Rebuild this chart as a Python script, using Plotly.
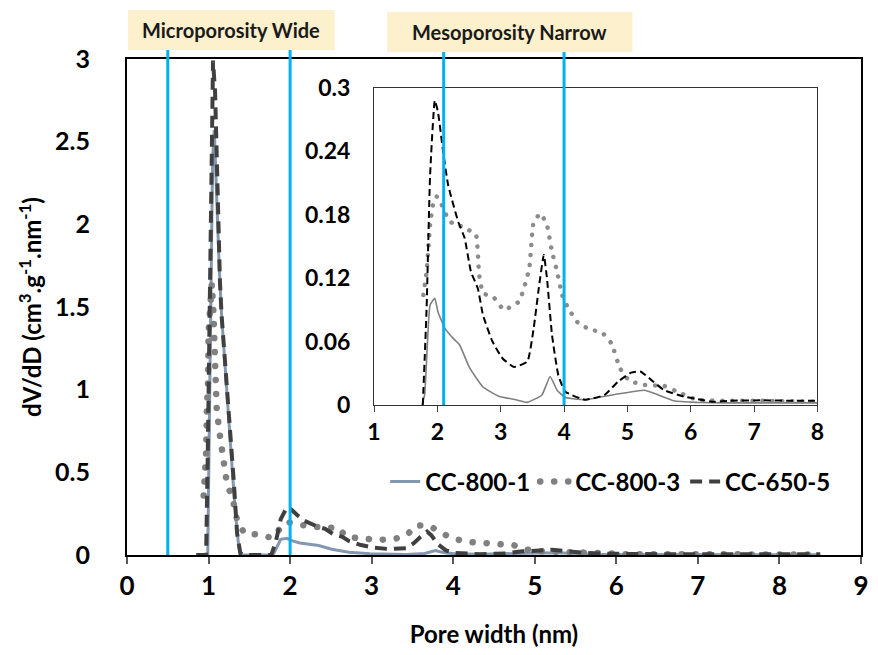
import plotly.graph_objects as go

# ---------------- data ----------------
x_cc800_1 = [0.85, 0.99, 1.01, 1.03, 1.05, 1.07, 1.10, 1.13, 1.16, 1.20, 1.25, 1.30, 1.34, 1.37, 1.40,
             1.50, 1.60, 1.70, 1.76, 1.80, 1.84, 1.885, 1.96, 2.01, 2.12, 2.25, 2.35, 2.51, 2.72, 2.98,
             3.24, 3.42, 3.65, 3.78, 3.89, 4.02, 4.33, 4.80, 5.27, 5.42, 5.73, 6.10, 6.60, 7.00, 7.50,
             8.00, 8.50]
y_cc800_1 = [0, 0, 0.8, 1.8, 2.4, 2.57, 2.15, 1.75, 1.45, 1.15, 0.78, 0.45, 0.2, 0.05, 0.0,
             0, 0, 0, 0, 0.01, 0.055, 0.0945, 0.101, 0.088, 0.0725, 0.063, 0.057, 0.035, 0.017, 0.008,
             0.005, 0.0025, 0.0095, 0.027, 0.014, 0.007, 0.005, 0.010, 0.014, 0.011, 0.004, 0.0025, 0.002,
             0.002, 0.002, 0.002, 0.002]

x_cc800_3 = [0.94, 0.95, 0.97, 0.98, 0.995, 1.0, 1.02, 1.04, 1.06, 1.08, 1.10, 1.14, 1.16, 1.18, 1.22,
             1.32, 1.35, 1.44, 1.58, 1.72, 1.78, 1.83, 1.885, 1.94, 1.99, 2.07, 2.17, 2.27, 2.40, 2.53,
             2.61, 2.66, 2.72, 2.90, 3.05, 3.29, 3.45, 3.52, 3.63, 3.73, 3.81, 3.89, 3.97, 4.07, 4.23,
             4.43, 4.59, 4.75, 4.88, 5.03, 5.27, 5.58, 5.84, 6.10, 6.62, 7.14, 8.00, 8.50]
y_cc800_3 = [0.36, 0.45, 0.62, 0.89, 1.06, 1.35, 1.5, 1.64, 1.47, 1.18, 0.88, 0.72, 0.64, 0.54, 0.45,
             0.29, 0.21, 0.13, 0.125, 0.11, 0.104, 0.126, 0.17, 0.192, 0.197, 0.189, 0.176, 0.17, 0.169, 0.164,
             0.161, 0.123, 0.106, 0.101, 0.09, 0.098, 0.129, 0.173, 0.181, 0.17, 0.145, 0.126, 0.104, 0.091, 0.077,
             0.071, 0.069, 0.058, 0.035, 0.023, 0.019, 0.018, 0.011, 0.005, 0.004, 0.004, 0.003, 0.003]

x_cc650_5 = [0.85, 0.97, 0.99, 1.01, 1.03, 1.055, 1.08, 1.105, 1.14, 1.16, 1.22, 1.27, 1.31, 1.35, 1.39,
             1.45, 1.60, 1.77, 1.83, 1.885, 1.96, 2.01, 2.09, 2.17, 2.33, 2.43, 2.53, 2.64, 2.72, 2.87,
             3.03, 3.21, 3.42, 3.52, 3.60, 3.68, 3.73, 3.81, 3.91, 4.02, 4.33, 4.64, 4.85, 5.06, 5.21,
             5.37, 5.58, 5.89, 6.10, 6.36, 6.62, 7.14, 7.66, 8.00, 8.50]
y_cc650_5 = [0, 0, 0.6, 1.5, 2.4, 2.99, 2.8, 2.25, 1.65, 1.45, 1.05, 0.75, 0.44, 0.13, 0.01,
             0, 0, 0, 0.091, 0.217, 0.288, 0.277, 0.24, 0.208, 0.173, 0.158, 0.126, 0.11, 0.085, 0.06,
             0.044, 0.036, 0.041, 0.0725, 0.11, 0.142, 0.12, 0.066, 0.028, 0.0126, 0.005, 0.0095, 0.022, 0.0306, 0.0315,
             0.024, 0.014, 0.008, 0.0057, 0.003, 0.004, 0.0044, 0.004, 0.004, 0.004]

series_names = ["CC-800-1", "CC-800-3", "CC-650-5"]
main_ticks_x = [0, 1, 2, 3, 4, 5, 6, 7, 8, 9]
main_ticks_y = [0, 0.5, 1, 1.5, 2, 2.5, 3]
main_ticktext_y = ["0", "0.5", "1", "1.5", "2", "2.5", "3"]
inset_ticks_x = [1, 2, 3, 4, 5, 6, 7, 8]
inset_ticks_y = [0, 0.06, 0.12, 0.18, 0.24, 0.3]
inset_ticktext_y = ["0", "0.06", "0.12", "0.18", "0.24", "0.3"]
micro_wide_lines = [0.5, 2.0]
meso_narrow_lines = [2.1, 4.0]
box_labels = ["Microporosity Wide", "Mesoporosity Narrow"]
INSET_MIN_X = 1.755

FONT = "Lato"

def inset_subset(xs, ys):
    pairs = [(a, b) for a, b in zip(xs, ys) if a >= INSET_MIN_X]
    return [p[0] for p in pairs], [p[1] for p in pairs]

fig = go.Figure()

# main traces
fig.add_trace(go.Scatter(x=x_cc800_1, y=y_cc800_1, name=series_names[0], mode="lines",
                         line=dict(color="#8497B0", width=3), xaxis="x", yaxis="y"))
fig.add_trace(go.Scatter(x=x_cc800_3, y=y_cc800_3, name=series_names[1], mode="lines",
                         line=dict(color="#808080", width=6.5, dash="5px,9px"), xaxis="x", yaxis="y"))
fig.add_trace(go.Scatter(x=x_cc650_5, y=y_cc650_5, name=series_names[2], mode="lines",
                         line=dict(color="#404040", width=4, dash="12px,7px"), xaxis="x", yaxis="y"))

# inset traces
ix, iy = inset_subset(x_cc800_1, y_cc800_1)
fig.add_trace(go.Scatter(x=ix, y=iy, mode="lines", showlegend=False,
                         line=dict(color="#7F7F7F", width=1.6, shape="spline", smoothing=0.4),
                         xaxis="x2", yaxis="y2"))
ix, iy = inset_subset(x_cc800_3, y_cc800_3)
fig.add_trace(go.Scatter(x=ix, y=iy, mode="lines", showlegend=False,
                         line=dict(color="#8C8C8C", width=4.5, dash="4px,6px", shape="spline", smoothing=0.4),
                         xaxis="x2", yaxis="y2"))
ix, iy = inset_subset(x_cc650_5, y_cc650_5)
fig.add_trace(go.Scatter(x=ix, y=iy, mode="lines", showlegend=False,
                         line=dict(color="#000000", width=2, dash="7px,4px", shape="spline", smoothing=0.4),
                         xaxis="x2", yaxis="y2"))

# page has an 8px body margin: figure is offset by OFF inside the 878x655 window
OFF = 8
W, H = 878 - OFF, 655 - OFF
L, R, T = 127 - OFF, 9, 59 - OFF
B = H - (555 - OFF)
PW = W - L - R
PH = H - T - B

def px(xp):
    # reference-window pixel x -> paper
    return (xp - OFF - L) / PW

def py(yp):
    # reference-window pixel y -> paper
    return (H - B - (yp - OFF)) / PH

inset_dom_x = [px(376.7), px(825)]
inset_dom_y = [py(405), py(87.7)]

shapes = []
for xv in micro_wide_lines:
    shapes.append(dict(type="line", xref="x", yref="paper", x0=xv, x1=xv, y0=0, y1=py(50),
                       line=dict(color="#00B0F0", width=3)))
for xv in meso_narrow_lines:
    shapes.append(dict(type="line", xref="x2", yref="paper", x0=xv, x1=xv, y0=inset_dom_y[0], y1=py(52),
                       line=dict(color="#00B0F0", width=3)))
shapes.append(dict(type="rect", xref="paper", yref="paper", x0=px(128), x1=px(337), y0=py(50), y1=py(10),
                   fillcolor="#FDF0CD", line=dict(width=0), layer="below"))
shapes.append(dict(type="rect", xref="paper", yref="paper", x0=px(390), x1=px(638), y0=py(52), y1=py(12),
                   fillcolor="#FDF0CD", line=dict(width=0), layer="below"))

annotations = [
    dict(text="<b>%s</b>" % box_labels[0], xref="paper", yref="paper", x=px(232.5), y=py(30),
         showarrow=False, font=dict(family=FONT, size=20, color="#1a1a1a"), xanchor="center", yanchor="middle"),
    dict(text="<b>%s</b>" % box_labels[1], xref="paper", yref="paper", x=px(514), y=py(32),
         showarrow=False, font=dict(family=FONT, size=20, color="#1a1a1a"), xanchor="center", yanchor="middle"),
]

fig.update_layout(
    width=W, height=H,
    margin=dict(l=L, r=R, t=T, b=B, pad=0),
    paper_bgcolor="white", plot_bgcolor="white",
    font=dict(family=FONT, color="black"),
    showlegend=True,
    legend=dict(orientation="h", x=px(388), y=py(482), xanchor="left", yanchor="middle",
                font=dict(family=FONT, size=24, color="black", weight="bold"),
                bgcolor="rgba(0,0,0,0)", itemwidth=30, tracegroupgap=0),
    xaxis=dict(range=[0, 9], tickvals=main_ticks_x, ticks="outside", ticklen=7, tickwidth=1.5,
               tickcolor="#595959", showline=True, linecolor="black", linewidth=2, mirror=True,
               showgrid=False, zeroline=False,
               tickfont=dict(family=FONT, size=26, color="black", weight="bold"),
               title=dict(text="<b>Pore width (nm)</b>", font=dict(family=FONT, size=24, color="black"),
                          standoff=26)),
    yaxis=dict(range=[0, 3], tickvals=main_ticks_y, ticktext=main_ticktext_y, ticks="",
               showline=True, linecolor="black", linewidth=2, mirror=True,
               showgrid=False, zeroline=False, ticklabelstandoff=30,
               tickfont=dict(family=FONT, size=25, color="black", weight="bold"),
               title=dict(text="<b>dV/dD (cm<sup>3</sup>.g<sup>-1</sup>.nm<sup>-1</sup>)</b>",
                          font=dict(family=FONT, size=24, color="black"), standoff=7)),
    xaxis2=dict(domain=inset_dom_x, anchor="y2", range=[1, 8], tickvals=inset_ticks_x,
                ticks="outside", ticklen=6, tickwidth=1, tickcolor="#404040",
                showline=True, linecolor="#333333", linewidth=1, mirror=True,
                showgrid=False, zeroline=False,
                tickfont=dict(family=FONT, size=23, color="black", weight="bold")),
    yaxis2=dict(domain=inset_dom_y, anchor="x2", range=[0, 0.3], tickvals=inset_ticks_y,
                ticktext=inset_ticktext_y, ticks="",
                showline=True, linecolor="#333333", linewidth=1, mirror=True,
                showgrid=False, zeroline=False, ticklabelstandoff=18,
                tickfont=dict(family=FONT, size=23, color="black", weight="bold")),
    shapes=shapes,
    annotations=annotations,
)

post = """
(function(){
  function fix(){
    document.querySelectorAll('path.js-line').forEach(function(p){
      var da = (p.style.strokeDasharray || '').replace(/\\s/g,'');
      if (da === '5px,9px') { p.style.strokeDasharray = '0.1px,13.9px'; p.style.strokeLinecap = 'round'; }
      else if (da === '4px,6px') { p.style.strokeDasharray = '0.1px,9.9px'; p.style.strokeLinecap = 'round'; }
    });
  }
  fix();
  setTimeout(fix, 50);
  setTimeout(fix, 300);
})();
"""

fig.write_html("out.html", post_script=post)
